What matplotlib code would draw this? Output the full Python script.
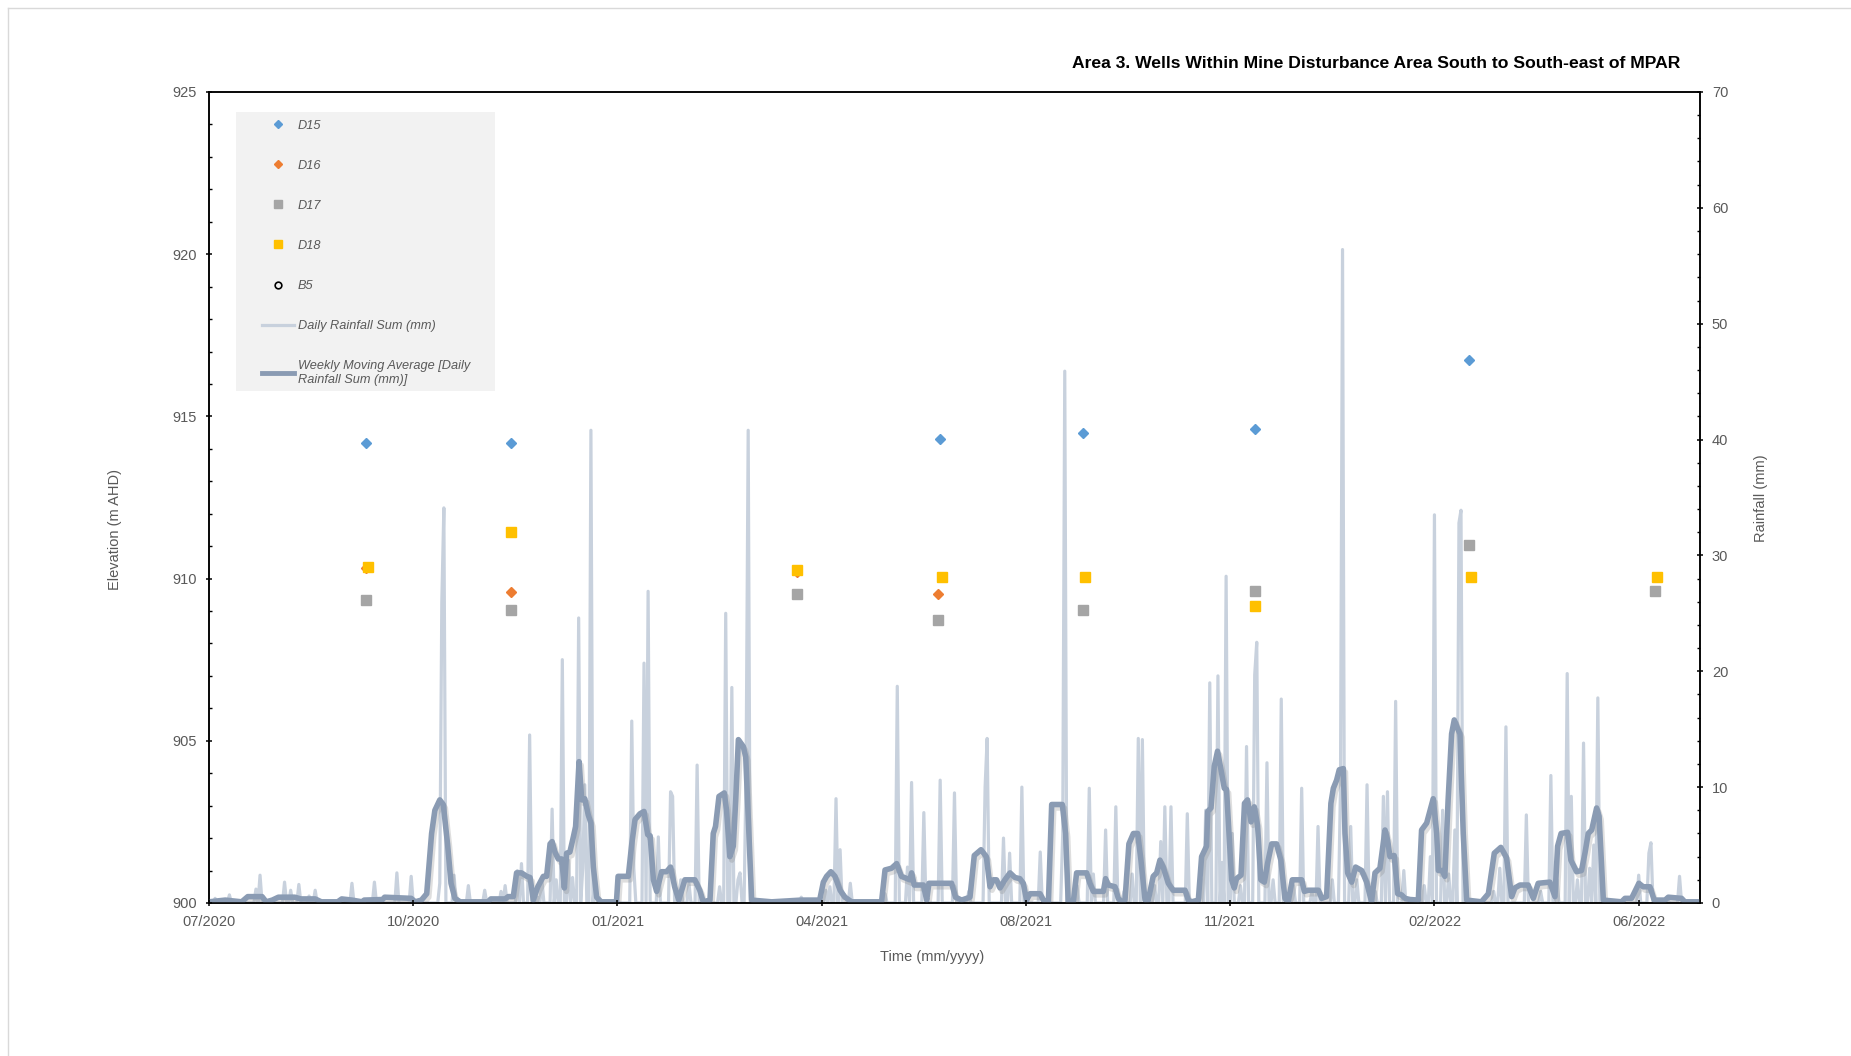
import numpy as np
import pandas as pd
import matplotlib
matplotlib.use('Agg')
import matplotlib.pyplot as plt
import matplotlib.dates as mdates
import matplotlib.patheffects as pe
from matplotlib.lines import Line2D
from matplotlib.patches import Rectangle
from matplotlib.ticker import MultipleLocator

plt.rcParams['font.family'] = ['Liberation Sans', 'DejaVu Sans']

TITLE = 'Area 3. Wells Within Mine Disturbance Area South to South-east of MPAR'
RAIN_START = pd.Timestamp('2020-07-01')
AXIS_DAYS = 730
TICK_STEP_DAYS = 100

# groundwater elevations (m AHD) per sampling round
d15_dates = ['2020-09-16', '2020-11-26', '2021-06-24', '2021-09-02', '2021-11-25', '2022-03-10']
d15_elev = [914.19, 914.19, 914.30, 914.48, 914.62, 916.74]
d16_dates = ['2020-09-16', '2020-11-26', '2021-04-15', '2021-06-23']
d16_elev = [910.32, 909.60, 910.20, 909.52]
d17_dates = ['2020-09-16', '2020-11-26', '2021-04-15', '2021-06-23',
             '2021-09-02', '2021-11-25', '2022-03-10', '2022-06-09']
d17_elev = [909.34, 909.04, 909.53, 908.73, 909.04, 909.62, 911.04, 909.62]
d18_dates = ['2020-09-17', '2020-11-26', '2021-04-15', '2021-06-25',
             '2021-09-03', '2021-11-25', '2022-03-11', '2022-06-10']
d18_elev = [910.37, 911.44, 910.25, 910.06, 910.06, 909.16, 910.06, 910.06]
b5_dates = []
b5_elev = []

# daily rainfall (mm), days since 1 July 2020; all other days are dry
rain_day = [3, 10, 23, 25, 37, 40, 44, 49, 52, 70, 81, 92, 99, 113, 114, 115, 120,
            127, 135, 143, 145, 151, 153, 157, 161, 163, 168, 170, 173, 176, 178,
            181, 183, 184, 187, 189, 207, 208, 213, 215, 220, 226, 227, 231, 235,
            239, 250, 253, 256, 259, 260, 263, 264, 290, 302, 304, 307, 309, 314,
            331, 337, 342, 344, 350, 358, 365, 372, 380, 381, 389, 392, 398, 407,
            418, 419, 425, 431, 433, 439, 444, 448, 452, 455, 457, 463, 466, 468,
            471, 479, 486, 488, 490, 494, 496, 498, 501, 505, 508, 512, 513, 518,
            521, 525, 531, 535, 540, 543, 550, 554, 555, 559, 562, 567, 571, 575,
            577, 581, 585, 595, 598, 600, 604, 607, 610, 612, 613, 629, 632, 635,
            645, 652, 657, 660, 665, 667, 670, 673, 676, 678, 680, 700, 705, 706,
            714, 720]
rain_mm = [0.4, 0.7, 1.2, 2.4, 1.8, 1.1, 1.6, 0.6, 1.1, 1.7, 1.8, 2.6, 2.3, 1.7, 26.0, 34.1, 2.4,
           1.5, 1.1, 1.0, 1.5, 2.8, 3.4, 14.5, 0.5, 2.0, 8.1, 2.0, 21.0, 3.7, 2.2,
           24.6, 3.0, 10.2, 40.8, 2.4, 15.7, 3.0, 20.7, 26.9, 5.7, 9.6, 9.2, 2.0, 1.7,
           11.9, 1.4, 25.0, 18.6, 2.0, 2.6, 12.0, 40.8, 0.5, 1.1, 1.4, 9.0, 4.6, 1.7,
           0.8, 18.7, 3.1, 10.4, 7.8, 10.6, 9.5, 1.0, 10.0, 14.2, 5.6, 4.3, 10.0, 4.4,
           6.0, 45.9, 1.5, 9.9, 2.5, 6.3, 8.3, 1.0, 2.5, 14.2, 14.1, 1.5, 5.3, 8.3,
           8.3, 7.7, 2.0, 8.0, 19.0, 19.6, 3.5, 28.2, 6.0, 1.5, 13.5, 19.7, 22.5, 12.1,
           2.0, 17.6, 1.5, 9.9, 1.0, 6.6, 2.0, 10.0, 56.4, 6.6, 2.0, 10.2, 1.0, 9.2,
           9.6, 17.4, 2.8, 1.5, 4.0, 33.5, 8.0, 2.5, 6.3, 32.8, 33.9, 1.0, 3.0, 15.2,
           7.6, 1.0, 11.0, 2.0, 19.8, 9.2, 2.0, 13.8, 3.0, 5.0, 17.7, 2.4, 4.3, 5.2,
           0.5, 2.3]

# weekly moving average of daily rainfall (mm), vertices in days since 1 July 2020
ma_day = [0, 8, 16, 19, 26, 28, 31, 34, 42, 45, 52, 55, 63, 65, 70, 75, 76, 85, 86, 99,
          101, 104, 106.6, 109, 110.6, 113, 114.7, 116.8, 118.5, 120.4, 123, 136.6, 138,
          145, 146.5, 149, 150.6, 153, 155.6, 157.2, 158.8, 161, 163.7, 165.3, 167, 168,
          169.4, 171, 172.7, 174, 175.1, 176.7, 178.4, 179.5, 181.2, 182.5, 184, 185.7,
          187, 188.2, 189.8, 192, 199.5, 200.3, 205.3, 207, 208.6, 211, 213, 214.8, 216,
          217.6, 219.2, 221.6, 224, 226, 228, 230, 233, 237.9, 240.3, 242, 245.3, 246.9,
          248, 249.7, 252.3, 253.4, 255, 256.7, 257.9, 259.2, 261.6, 262.8, 264, 265.7,
          275.5, 290, 299, 300.8, 302.4, 304.5, 306.5, 309, 311.4, 314.6, 329.3, 331,
          334.2, 336.7, 339, 343.2, 344, 345.3, 349.8, 351.4, 352.5, 363.6, 365.5, 368.5,
          372.6, 374.7, 378, 380.6, 382.4, 384, 385.6, 387.3, 389.7, 392.2, 394.6, 397,
          398.7, 400.3, 402, 406.9, 408.5, 411, 412.6, 417.8, 419.4, 420.7, 423.2, 424.8,
          429.7, 431.3, 433, 437.9, 439, 440.3, 443.6, 445.2, 446.8, 448.5, 450.4, 452.6,
          454.7, 456.3, 458.3, 459.9, 462.3, 464, 465.6, 467.2, 469.7, 472.1, 477.9,
          479.5, 481.1, 484.4, 486, 488.4, 489, 490.6, 492.2, 493.8, 495.5, 497.1, 498.2,
          499.4, 500.7, 502, 503.1, 505.3, 507, 508.5, 510.2, 511.8, 513.4, 515, 516.7,
          518.6, 520.3, 522.7, 524.8, 526.8, 528.4, 530.4, 535, 536.3, 538.2, 543.2,
          544.8, 547.2, 549.3, 550.5, 552.1, 553.4, 555.4, 556.2, 557.5, 559.5, 561.4,
          564.4, 566.8, 569.2, 570.9, 573.3, 575.8, 577.1, 578.2, 580.3, 582, 583.9,
          585.6, 588, 592.1, 593.7, 596.2, 598.3, 599.4, 601.1, 601.9, 603.8, 605.1,
          606.7, 608.4, 609.7, 611.5, 612.5, 614.1, 615.8, 623, 626.4, 629.3, 632.5,
          635.3, 637.8, 639.4, 641.9, 645.9, 648.4, 650.8, 656.5, 659, 660.3, 662, 665.2,
          666.8, 669.6, 672, 673.7, 675.3, 677, 679.4, 680.6, 682.7, 691.6, 693.3, 696.5,
          700.1, 702.2, 705.5, 707.6, 712.9, 714.5, 721, 722.6, 730]
ma_mm = [0.1, 0.25, 0.1, 0.55, 0.55, 0.1, 0.25, 0.5, 0.5, 0.35, 0.35, 0.1, 0.1, 0.35, 0.25,
         0.1, 0.25, 0.3, 0.5, 0.4, 0.1, 0.25, 0.8, 6.0, 8.0, 8.9, 8.5, 5.1, 1.7, 0.4, 0.1,
         0.1, 0.35, 0.35, 0.55, 0.55, 2.6, 2.6, 2.3, 2.2, 0.25, 1.4, 2.3, 2.3, 5.1, 5.3,
         4.4, 3.8, 3.8, 1.3, 4.3, 4.4, 5.7, 6.6, 12.2, 8.9, 9.0, 7.6, 6.9, 3.1, 0.5, 0.1,
         0.1, 2.3, 2.3, 5.1, 7.2, 7.7, 7.9, 5.9, 5.8, 2.0, 1.0, 2.7, 2.7, 3.1, 1.4, 0.25,
         2.0, 2.0, 1.1, 0.1, 0.25, 6.0, 6.6, 9.2, 9.5, 8.0, 4.0, 4.9, 8.9, 14.1, 13.5,
         12.6, 7.5, 0.25, 0.1, 0.25, 0.25, 1.8, 2.3, 2.7, 2.3, 1.1, 0.5, 0.1, 0.1, 2.85,
         3.0, 3.4, 2.3, 2.0, 2.6, 1.55, 1.55, 0.25, 1.7, 1.7, 0.5, 0.25, 0.5, 4.1, 4.6,
         4.0, 1.4, 2.0, 2.0, 1.3, 2.0, 2.6, 2.2, 2.1, 1.7, 0.25, 0.8, 0.8, 0.25, 0.1, 8.5,
         8.5, 6.0, 0.1, 0.1, 2.6, 2.6, 1.7, 1.0, 1.0, 2.1, 1.55, 1.4, 0.4, 0.1, 0.25, 5.1,
         6.0, 6.0, 3.7, 0.25, 0.25, 2.3, 2.6, 3.7, 3.1, 1.7, 1.1, 1.1, 0.25, 0.1, 0.25,
         4.0, 4.9, 7.9, 8.2, 11.8, 13.1, 11.5, 9.9, 9.8, 6.0, 2.0, 1.3, 2.1, 2.4, 8.6,
         8.9, 7.0, 8.3, 6.7, 2.0, 1.8, 3.7, 5.1, 5.1, 3.7, 0.4, 0.1, 2.0, 2.0, 1.0, 1.1,
         1.1, 0.4, 0.55, 8.6, 9.9, 10.6, 11.5, 11.6, 6.0, 2.6, 1.8, 3.1, 2.8, 1.8, 0.1,
         2.6, 3.0, 6.3, 5.4, 4.0, 4.1, 0.8, 0.7, 0.4, 0.3, 0.25, 6.3, 6.9, 8.3, 9.0, 6.0,
         2.8, 2.8, 2.3, 8.9, 14.6, 15.8, 15.0, 14.6, 6.0, 0.25, 0.1, 0.8, 4.3, 4.8, 3.9,
         0.55, 1.3, 1.55, 1.55, 0.4, 1.7, 1.8, 0.55, 4.9, 6.0, 6.1, 3.7, 2.7, 2.8, 4.3,
         6.0, 6.3, 8.2, 7.5, 0.25, 0.1, 0.4, 0.4, 1.7, 1.4, 1.4, 0.25, 0.25, 0.5, 0.4,
         0.1, 0.1]

GREY_TEXT = '#595959'
RAIN_COLOUR = '#c8d1dd'
MA_COLOUR = '#8a9bb3'


def to_dates(days):
    return RAIN_START + pd.to_timedelta(np.asarray(days, dtype=float), unit='D')


fig = plt.figure(figsize=(18.51, 10.56), dpi=100)
ax = fig.add_axes([0.1129, 0.1449, 0.8055, 0.7680])
ax_rain = ax.twinx()
# well elevations sit above the rainfall traces
ax.set_zorder(ax_rain.get_zorder() + 1)
ax.patch.set_visible(False)

# rainfall on the secondary axis
all_days = np.arange(AXIS_DAYS + 1)
daily = np.zeros(all_days.size)
daily[rain_day] = rain_mm
rain_line, = ax_rain.plot(to_dates(all_days), daily, color=RAIN_COLOUR, lw=2.3,
                          solid_joinstyle='round', zorder=2)
ma_line, = ax_rain.plot(to_dates(ma_day), ma_mm, color=MA_COLOUR, lw=4,
                        solid_joinstyle='round', zorder=3,
                        path_effects=[pe.SimpleLineShadow(offset=(1.5, -2.5),
                                                          shadow_color='#7f7f7f', alpha=0.25),
                                      pe.Normal()])

# wells on the primary axis
h15, = ax.plot(pd.to_datetime(d15_dates), d15_elev, ls='none', marker='D', ms=5.5,
               color='#5b9bd5', zorder=4)
h16, = ax.plot(pd.to_datetime(d16_dates), d16_elev, ls='none', marker='D', ms=5,
               color='#ed7d31', zorder=4)
h17, = ax.plot(pd.to_datetime(d17_dates), d17_elev, ls='none', marker='s', ms=7.2,
               color='#a5a5a5', zorder=4)
h18, = ax.plot(pd.to_datetime(d18_dates), d18_elev, ls='none', marker='s', ms=7.2,
               color='#ffc000', zorder=5)
hb5, = ax.plot(pd.to_datetime(b5_dates), b5_elev, ls='none', marker='o', ms=6,
               mfc='none', mec='black', mew=1.2)

# axes limits and ticks
ax.set_xlim(RAIN_START, RAIN_START + pd.Timedelta(days=AXIS_DAYS))
ax.set_xticks([RAIN_START + pd.Timedelta(days=d)
               for d in range(0, AXIS_DAYS, TICK_STEP_DAYS)])
ax.xaxis.set_major_formatter(mdates.DateFormatter('%m/%Y'))
ax.set_ylim(900, 925)
ax.yaxis.set_major_locator(MultipleLocator(5))
ax.yaxis.set_minor_locator(MultipleLocator(1))
ax_rain.set_ylim(0, 70)
ax_rain.yaxis.set_major_locator(MultipleLocator(10))
ax_rain.yaxis.set_minor_locator(MultipleLocator(2))

for a in (ax, ax_rain):
    for spine in a.spines.values():
        spine.set_linewidth(1.1)
        spine.set_color('black')
    a.tick_params(which='major', direction='inout', length=5, width=1.1,
                  color='black', labelcolor=GREY_TEXT, labelsize=10.5, pad=6)
    a.tick_params(which='minor', direction='in', length=2.5, width=1, color='black')

# legend panel
ax.add_patch(Rectangle((0.0181, 0.6313), 0.1737, 0.3440, transform=ax.transAxes,
                       facecolor='#f2f2f2', edgecolor='none', zorder=6))
handles = [h15, h16, h17, h18, hb5, rain_line,
           Line2D([], [], color=MA_COLOUR, lw=3.5)]
labels = ['D15', 'D16', 'D17', 'D18', 'B5', 'Daily Rainfall Sum (mm)',
          'Weekly Moving Average [Daily\nRainfall Sum (mm)]']
leg = ax.legend(handles, labels, loc='upper left', bbox_to_anchor=(0.0355, 0.966),
                frameon=False, borderpad=0, borderaxespad=0, handlelength=2.5,
                handletextpad=0.3, labelspacing=2.2, markerscale=0.8,
                prop={'style': 'italic', 'size': 9.2}, labelcolor=GREY_TEXT)
leg.set_zorder(7)

# titles and axis labels
fig.text(1680 / 1851, 1 - 63 / 1056, TITLE, ha='right', va='center',
         fontsize=12.6, fontweight='bold', color='black')
fig.text(114.5 / 1851, 1 - 529 / 1056, 'Elevation (m AHD)', rotation=90,
         ha='center', va='center', fontsize=10.5, color=GREY_TEXT)
fig.text(1761 / 1851, 1 - 498 / 1056, 'Rainfall (mm)', rotation=90,
         ha='center', va='center', fontsize=10.5, color=GREY_TEXT)
fig.text(932.6 / 1851, 1 - 957 / 1056, 'Time (mm/yyyy)',
         ha='center', va='center', fontsize=10.5, color=GREY_TEXT)

# thin page frame
fig.add_artist(Line2D([8 / 1851, 1], [1 - 8 / 1056, 1 - 8 / 1056],
                      transform=fig.transFigure, color='#d9d9d9', lw=1))
fig.add_artist(Line2D([8 / 1851, 8 / 1851], [0, 1 - 8 / 1056],
                      transform=fig.transFigure, color='#d9d9d9', lw=1))

fig.savefig('out.png', dpi=100)
